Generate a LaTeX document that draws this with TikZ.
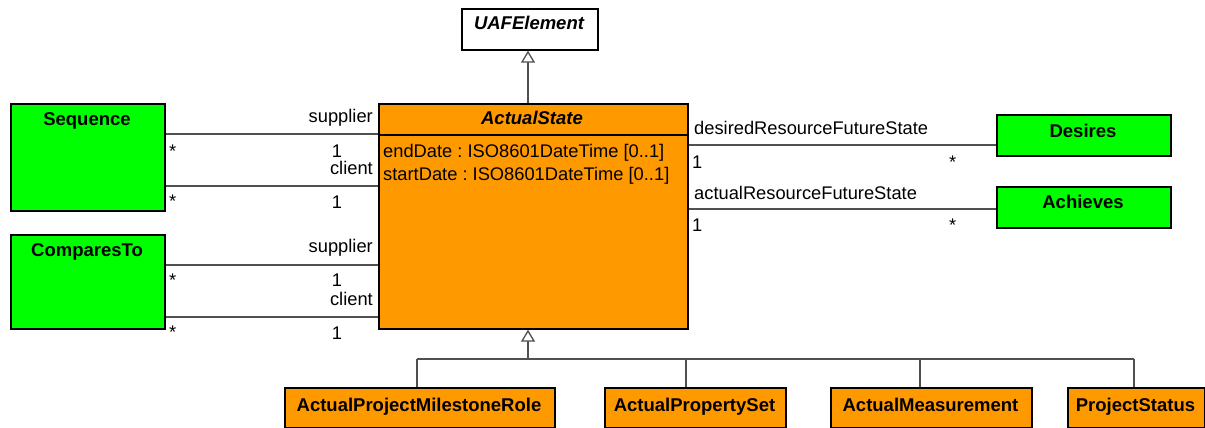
\documentclass[tikz,border=0pt]{standalone}
\usepackage{fontspec}
\setmainfont{Liberation Sans}
\usetikzlibrary{arrows.meta}
\definecolor{umlgreen}{RGB}{0,255,0}
\definecolor{umlorange}{RGB}{255,153,0}
\definecolor{linegray}{RGB}{80,80,80}
\tikzset{
  cls/.style={draw=black, line width=1.7pt, anchor=north west, inner sep=0pt},
  greencls/.style={cls, fill=umlgreen},
  orangecls/.style={cls, fill=umlorange},
  whitecls/.style={cls, fill=white},
  ttl/.style={font=\fontsize{18.5}{22}\selectfont\bfseries, inner sep=0pt, anchor=base},
  ittl/.style={ttl, font=\fontsize{18.5}{22}\selectfont\bfseries\itshape},
  lbl/.style={font=\fontsize{18.3}{22}\selectfont, inner sep=0pt},
  assoc/.style={draw=linegray, line width=1.3pt},
  gen/.style={draw=linegray, line width=1.3pt, -{Triangle[open, length=12pt, width=14pt, fill=white]}}
}
\begin{document}
\frenchspacing
\begin{tikzpicture}[x=1pt,y=-1pt]
\useasboundingbox (0,0) rectangle (1205,428);

% classes
\node[whitecls, minimum width=136, minimum height=41] (uaf) at (461,8) {};
\node[ittl] (uaft) at (529,30) {UAFElement};

\node[orangecls, minimum width=309, minimum height=225] (as) at (378,103) {};
\node[ittl] (ast) at (532,124) {ActualState};
\coordinate (hdl) at (378,135);
\coordinate (hdr) at (687,135);
\draw[black, line width=1.5pt] (hdl) -- (hdr);
\node[lbl, anchor=base west] (a1) at (383,157) {endDate : ISO8601DateTime [0..1]};
\node[lbl, anchor=base west] (a2) at (383,180) {startDate : ISO8601DateTime [0..1]};

\node[greencls, minimum width=154, minimum height=107] (seq) at (10,103) {};
\node[ttl] (seqt) at (87,125) {Sequence};
\node[greencls, minimum width=154, minimum height=94] (cmp) at (10,234) {};
\node[ttl] (cmpt) at (87,256) {ComparesTo};

\node[greencls, minimum width=174, minimum height=41] (des) at (996,114) {};
\node[ttl] (dest) at (1083,137) {Desires};
\node[greencls, minimum width=174, minimum height=41] (ach) at (996,186) {};
\node[ttl] (acht) at (1083,208) {Achieves};

\node[orangecls, minimum width=270, minimum height=40] (apmr) at (284,387) {};
\node[ttl] (apmrt) at (419,411) {ActualProjectMilestoneRole};
\node[orangecls, minimum width=181, minimum height=40] (aps) at (604,387) {};
\node[ttl] (apst) at (694.5,411) {ActualPropertySet};
\node[orangecls, minimum width=201, minimum height=40] (am) at (830,387) {};
\node[ttl] (amt) at (930.5,411) {ActualMeasurement};
\node[orangecls, minimum width=137, minimum height=40] (ps) at (1067,387) {};
\node[ttl] (pst) at (1135.5,411) {ProjectStatus};

% generalization to UAFElement
\draw[gen] (as.north -| 528,0) -- (uaf.south -| 528,0);

% generalization tree
\coordinate (j0) at (528,359);
\coordinate (j1) at (417,359);
\coordinate (j2) at (686,359);
\coordinate (j3) at (920,359);
\coordinate (j4) at (1134,359);
\draw[assoc] (j1) -- (j4);
\draw[assoc] (apmr.north -| j1) -- (j1);
\draw[assoc] (aps.north -| j2) -- (j2);
\draw[assoc] (am.north -| j3) -- (j3);
\draw[assoc] (ps.north -| j4) -- (j4);
\draw[gen] (j0) -- (as.south -| j0);

% associations left
\coordinate (y1) at (0,134);
\coordinate (y2) at (0,186);
\coordinate (y3) at (0,265);
\coordinate (y4) at (0,317);
\draw[assoc] (seq.east |- y1) -- (as.west |- y1);
\draw[assoc] (seq.east |- y2) -- (as.west |- y2);
\draw[assoc] (cmp.east |- y3) -- (as.west |- y3);
\draw[assoc] (cmp.east |- y4) -- (as.west |- y4);

\node[lbl, anchor=base east] (l1) at (373,122) {supplier};
\node[lbl, anchor=base] (l2) at (337,157) {1};
\node[lbl, anchor=base west] (l3) at (169,157) {*};
\node[lbl, anchor=base east] (l4) at (373,174) {client};
\node[lbl, anchor=base] (l5) at (337,208) {1};
\node[lbl, anchor=base west] (l6) at (169,207) {*};

\node[lbl, anchor=base east] (l7) at (373,252) {supplier};
\node[lbl, anchor=base] (l8) at (337,286) {1};
\node[lbl, anchor=base west] (l9) at (169,286) {*};
\node[lbl, anchor=base east] (l10) at (373,305) {client};
\node[lbl, anchor=base] (l11) at (337,339) {1};
\node[lbl, anchor=base west] (l12) at (169,338) {*};

% associations right
\coordinate (y5) at (0,145);
\coordinate (y6) at (0,209);
\draw[assoc] (as.east |- y5) -- (des.west |- y5);
\draw[assoc] (as.east |- y6) -- (ach.west |- y6);

\node[lbl, anchor=base west] (r1) at (694,134) {desiredResourceFutureState};
\node[lbl, anchor=base west] (r2) at (692,168) {1};
\node[lbl, anchor=base west] (r3) at (949,168) {*};
\node[lbl, anchor=base west] (r4) at (694,199) {actualResourceFutureState};
\node[lbl, anchor=base west] (r5) at (692,231) {1};
\node[lbl, anchor=base west] (r6) at (949,231) {*};
\end{tikzpicture}
\end{document}
